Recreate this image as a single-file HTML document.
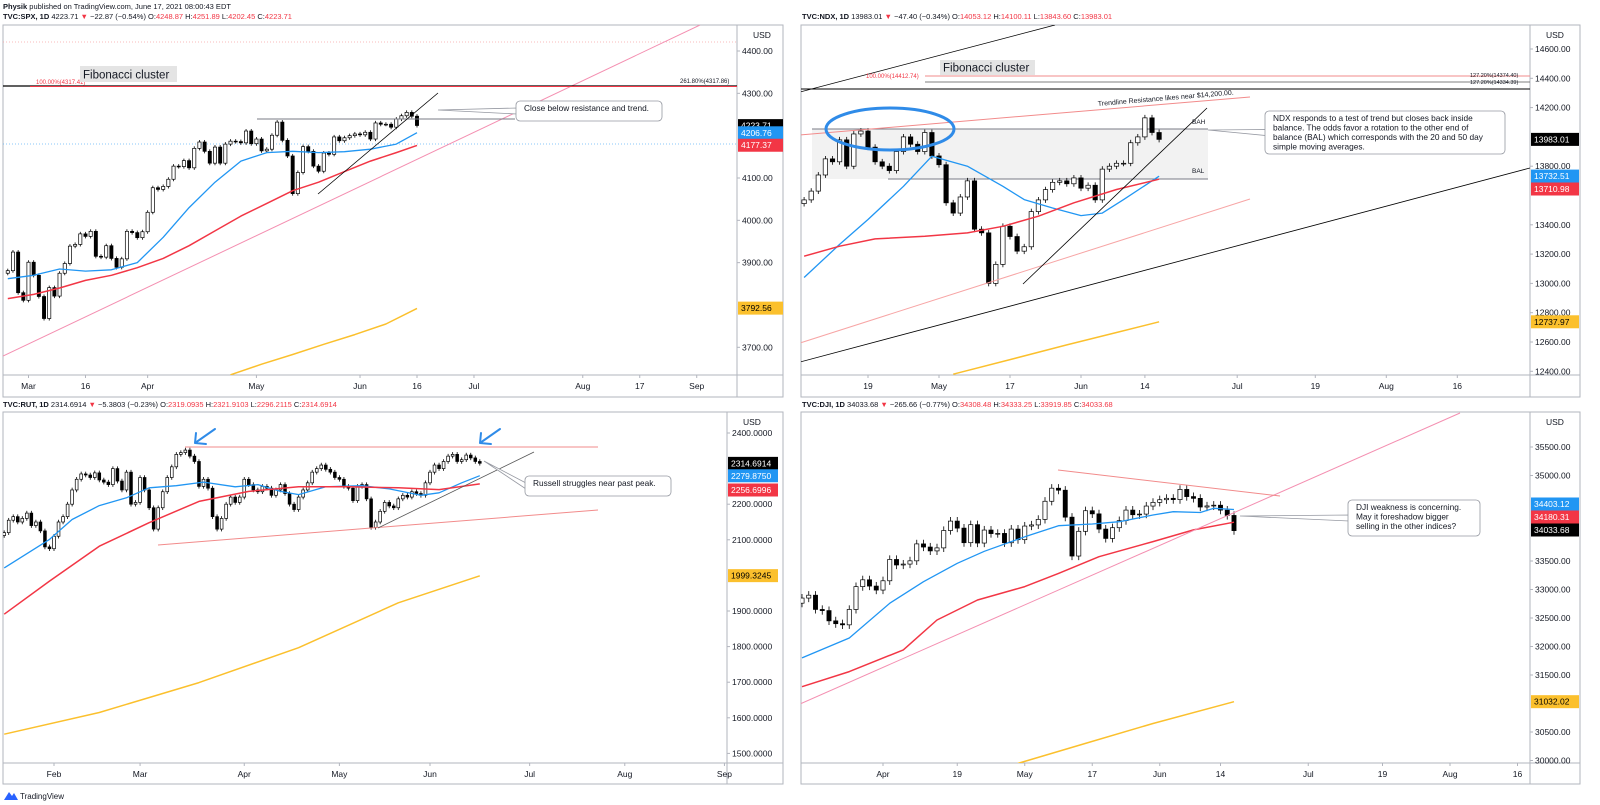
<!DOCTYPE html>
<html><head><meta charset="utf-8"><style>
html,body{margin:0;padding:0;background:#fff;}
svg{display:block;font-family:"Liberation Sans",sans-serif;}
</style></head><body>
<svg id="s" width="1600" height="805" viewBox="0 0 1600 805" xmlns="http://www.w3.org/2000/svg">
<rect x="0" y="0" width="1600" height="805" fill="#fff"/>
<text x="3" y="9" font-size="7.5" fill="#131722"><tspan font-weight="bold">Physik</tspan> published on TradingView.com, June 17, 2021 08:00:43 EDT</text>
<text x="3" y="19" font-size="7.5" fill="#131722"><tspan font-weight="bold">TVC:SPX, 1D</tspan> 4223.71 <tspan fill="#f23645">▼</tspan> −22.87 (−0.54%) O:<tspan fill="#f23645">4248.87</tspan> H:<tspan fill="#f23645">4251.89</tspan> L:<tspan fill="#f23645">4202.45</tspan> C:<tspan fill="#f23645">4223.71</tspan></text>
<text x="802" y="19" font-size="7.5" fill="#131722"><tspan font-weight="bold">TVC:NDX, 1D</tspan> 13983.01 <tspan fill="#f23645">▼</tspan> −47.40 (−0.34%) O:<tspan fill="#f23645">14053.12</tspan> H:<tspan fill="#f23645">14100.11</tspan> L:<tspan fill="#f23645">13843.60</tspan> C:<tspan fill="#f23645">13983.01</tspan></text>
<text x="3" y="407" font-size="7.5" fill="#131722"><tspan font-weight="bold">TVC:RUT, 1D</tspan> 2314.6914 <tspan fill="#f23645">▼</tspan> −5.3803 (−0.23%) O:<tspan fill="#f23645">2319.0935</tspan> H:<tspan fill="#f23645">2321.9103</tspan> L:<tspan fill="#f23645">2296.2115</tspan> C:<tspan fill="#f23645">2314.6914</tspan></text>
<text x="802" y="407" font-size="7.5" fill="#131722"><tspan font-weight="bold">TVC:DJI, 1D</tspan> 34033.68 <tspan fill="#f23645">▼</tspan> −265.66 (−0.77%) O:<tspan fill="#f23645">34308.48</tspan> H:<tspan fill="#f23645">34333.25</tspan> L:<tspan fill="#f23645">33919.85</tspan> C:<tspan fill="#f23645">34033.68</tspan></text>
<g><path d="M4 800 L9 792 L12 796 L14 793 L18 800 Z" fill="#2962ff"/><text x="20" y="799" font-size="8" fill="#131722">TradingView</text></g>
</svg>
<script>
// ---------- DATA ----------
// SPX
const spxStart=-4;
const spxCloses=[3881,3925,3829,3811,3901,3870,3820,3768,3841,3821,3875,3898,3939,3943,3968,3962,3974,3915,3913,3940,3910,3889,3909,3974,3971,3959,3973,4019,4077,4073,4080,4097,4128,4127,4141,4124,4170,4185,4163,4135,4173,4135,4180,4187,4186,4183,4211,4181,4192,4164,4168,4201,4232,4189,4152,4063,4113,4174,4163,4128,4116,4159,4156,4197,4188,4195,4200,4204,4202,4208,4192,4230,4227,4227,4220,4239,4247,4255,4246,4224];
const spxMaIdx=[-4,1,6,11,16,21,26,31,36,41,46,51,56,61,66,71,75];
const spxMa20=[3862,3870,3885,3880,3883,3900,3960,4030,4090,4140,4160,4163,4160,4162,4168,4180,4207];
const spxMa50=[3815,3825,3840,3858,3870,3888,3910,3940,3975,4010,4040,4070,4090,4115,4140,4160,4177];
const spxMa200Idx=[39,45,51,57,63,69,75];
const spxMa200=[3635,3660,3683,3707,3730,3755,3792];
const spxTicks=[4400,4300,4100,4000,3900,3700];
const spxTimeLabels=['Mar','16','Apr','May','Jun','16','Jul','Aug','17','Sep'];
const spxTimeIdx=[0,11,23,44,64,75,86,107,118,129];
// NDX
const ndxStart=-9;
const ndxCloses=[13570,13630,13740,13850,13830,13980,13800,14020,14040,13930,13830,13800,13770,13900,14000,13950,13900,14030,13870,13810,13550,13480,13590,13700,13370,13345,13000,13130,13390,13320,13220,13250,13490,13570,13640,13690,13700,13680,13720,13650,13670,13570,13780,13800,13820,13820,13960,14000,14130,14030,13983];
const ndxMa20Idx=[-9,-4,0,5,9,14,19,22,26,30,33,36,41];
const ndxMa20=[13040,13266,13436,13663,13868,13800,13663,13572,13515,13463,13480,13572,13732];
const ndxMa50Idx=[-9,-4,1,8,14,19,24,29,35,41];
const ndxMa50=[13186,13254,13304,13322,13345,13390,13459,13550,13641,13711];
const ndxMa200Idx=[12,20,28,35,41];
const ndxMa200=[12380,12480,12580,12665,12738];
const ndxTicks=[14600,14400,14200,13800,13400,13200,13000,12800,12600,12400];
const ndxTimeLabels=['19','May','17','Jun','14','Jul','19','Aug','16'];
const ndxTimeIdx=[0,10,20,30,39,52,63,73,83];
// RUT
const rutStart=-11;
const rutCloses=[2120,2155,2165,2150,2160,2175,2140,2150,2125,2080,2075,
2110,2150,2165,2200,2240,2270,2285,2282,2275,2288,2268,2262,2255,2300,2265,2240,2290,2200,2205,
2275,2240,2190,2130,2190,2235,2275,2305,2340,2345,2352,2335,2320,2250,2270,2245,2165,2130,2160,2200,2220,2205,2220,
2270,2255,2240,2235,2250,2245,2225,2240,2255,2230,2200,2185,2220,2240,2260,2290,2300,2310,2298,2290,2275,
2270,2250,2245,2210,2250,2255,2215,2135,2150,2180,2205,2195,2190,2215,2225,2220,2235,2230,2225,2260,
2290,2310,2300,2320,2335,2340,2320,2325,2338,2330,2320,2315];
const rutMa20Idx=[-11,-1,4,10,16,21,27,33,40,45,50,54,60,68,74,81,85,90,94];
const rutMa20=[2021,2101,2157,2196,2218,2246,2252,2262,2249,2255,2236,2227,2249,2252,2243,2225,2232,2260,2280];
const rutMa50Idx=[-11,-1,10,21,32,43,54,65,76,85,94];
const rutMa50=[1891,1984,2082,2148,2208,2236,2249,2249,2246,2241,2257];
const rutMa200Idx=[-11,10,32,54,76,94];
const rutMa200=[1554,1615,1699,1797,1923,1999];
const rutTicks=[2400,2200,2100,1900,1800,1700,1600,1500];
const rutTimeLabels=['Feb','Mar','Apr','May','Jun','Jul','Aug','Sep'];
const rutTimeIdx=[0,19,42,63,83,105,126,148];
// DJI
const djiStart=-12;
const djiCloses=[32850,32900,32650,32630,32450,32400,32380,32650,33050,33170,33060,32990,
33153,33527,33430,33446,33503,33800,33745,33677,33730,34035,34200,34077,33821,34137,33815,34043,33981,33984,33820,34060,33874,
34113,34133,34230,34548,34777,34742,34269,33587,34021,34382,34327,34060,33896,34084,34208,34393,34312,34323,34464,34529,
34575,34600,34577,34756,34630,34599,34447,34466,34479,34393,34299,34033];
const djiMa20Idx=[-12,-5,1,6,11,15,21,26,31,35,40,43,47,49,52];
const djiMa20=[31800,32150,32760,33137,33460,33670,33925,34120,34150,34190,34307,34365,34350,34425,34403];
const djiMa50Idx=[-12,-5,3,8,14,21,26,32,40,46,52];
const djiMa50=[31295,31560,31940,32465,32815,33050,33283,33575,33840,34045,34180];
const djiMa200Idx=[20,30,40,52];
const djiMa200=[29950,30300,30650,31032];
const djiTicks=[35500,35000,33500,33000,32500,32000,31500,30500,30000];
const djiTimeLabels=['Apr','19','May','17','Jun','14','Jul','19','Aug','16'];
const djiTimeIdx=[0,11,21,31,41,50,63,74,84,94];

// ---------- RENDER ----------
const S=document.getElementById('s');
const NS='http://www.w3.org/2000/svg';
function mk(tag,attrs,parent){const e=document.createElementNS(NS,tag);for(const k in attrs)e.setAttribute(k,attrs[k]);(parent||S).appendChild(e);return e;}
const BLUE='#2196f3',RED='#f23645',YEL='#fbc02d';

function panel(c){
  const g=mk('g',{});
  
  
  const X=i=>c.x0+i*c.dx, Y=p=>c.yRef+(c.pRef-p)*c.k;
  const border=mk('rect',{x:c.L,y:c.T,width:c.BR-c.L,height:c.BB-c.T,fill:'none',stroke:'#b2b5be','stroke-width':1},g);
  
  
  mk('line',{x1:c.R,y1:c.T,x2:c.R,y2:c.BB,stroke:'#b2b5be','stroke-width':1},g);
  mk('line',{x1:c.L,y1:c.B,x2:c.BR,y2:c.B,stroke:'#b2b5be','stroke-width':1},g);
  const cid='clip'+c.name;
  const cp=mk('clipPath',{id:cid},g);mk('rect',{x:c.L,y:c.T,width:c.R-c.L,height:c.B-c.T},cp);
  const plot=mk('g',{'clip-path':'url(#'+cid+')'},g);
  if(c.under)c.under(plot);
  const cg=mk('g',{},plot);
  
  
  const bw=c.dx*0.62;
  c.closes.forEach((cl,j)=>{
    const i=c.start+j;const op=j===0?cl-c.wick:c.closes[j-1];
    const hi=Math.max(op,cl)+c.wick*0.8, lo=Math.min(op,cl)-c.wick*0.8;
    const x=X(i);
    mk('line',{x1:x,y1:Y(hi),x2:x,y2:Y(lo),stroke:'#000','stroke-width':0.8},cg);
    const up=cl>=op;const y1=Y(Math.max(op,cl)),y2=Y(Math.min(op,cl));
    const r=mk('rect',{x:x-bw/2,y:y1,width:bw,height:Math.max(0.8,y2-y1),fill:up?'#fff':'#000',stroke:'#000','stroke-width':0.7},cg);
    
    
  });
  const ma=(idx,vals,col,nm,w)=>{
    const d=idx.map((ii,j)=>(j?'L':'M')+X(ii).toFixed(1)+' '+Y(vals[j]).toFixed(1)).join(' ');
    const p=mk('path',{d:d,fill:'none',stroke:col,'stroke-width':w,'stroke-linejoin':'round'},plot);
    
    
  };
  ma(c.ma20i,c.ma20,BLUE,c.name+'-sma20-line',1.3);
  ma(c.ma50i,c.ma50,RED,c.name+'-sma50-line',1.5);
  ma(c.ma200i,c.ma200,YEL,c.name+'-sma200-line',1.5);
  if(c.over)c.over(plot,X,Y);
  c.ticks.forEach(t=>{
    const y=Y(t);
    mk('line',{x1:c.R,y1:y,x2:c.R+3,y2:y,stroke:'#b2b5be'},g);
    const tx=mk('text',{x:c.R+5,y:y+3,'font-size':8.5,fill:'#131722'},g);
    tx.textContent=t.toFixed(c.dec);
    
    
  });
  const usd=mk('text',{x:c.R+16,y:c.T+13,'font-size':8.5,fill:'#131722'},g);usd.textContent='USD';
  
  
  c.tl.forEach((lab,j)=>{
    const x=X(c.ti[j]);if(x>c.R)return;
    mk('line',{x1:x,y1:c.B,x2:x,y2:c.B+3,stroke:'#b2b5be'},g);
    const tx=mk('text',{x:x,y:c.B+14,'font-size':8.5,fill:'#131722','text-anchor':'middle'},g);
    tx.textContent=lab;
    
    
  });
  c.badges.forEach(b=>{
    const y=b.y!==undefined?b.y:Y(b.v);
    const bg=mk('g',{},g);
    
    
    mk('rect',{x:c.R+1,y:y-6.5,width:c.bw,height:13,fill:b.c},bg);
    const tx=mk('text',{x:c.R+4,y:y+3,'font-size':8.5,fill:b.c===YEL?'#000':'#fff'},bg);
    tx.textContent=b.t;
  });
}
function line(p,x1,y1,x2,y2,col,w,nm,dash){const l=mk('line',{x1,y1,x2,y2,stroke:col,'stroke-width':w||1},p);if(dash)l.setAttribute('stroke-dasharray',dash);return l;}
function txt(p,x,y,s,sz,col,nm,extra){const t=mk('text',Object.assign({x,y,'font-size':sz,fill:col||'#131722'},extra||{}),p);t.textContent=s;return t;}
function callout(p,x,y,w,h,px,py,lines,nm){
  const g=mk('g',{},p);
  
  
  mk('polygon',{points:`${px},${py} ${x+1},${y+h/2-3} ${x+1},${y+h/2+3}`,fill:'#fff',stroke:'#9598a1','stroke-width':0.8},g);
  mk('rect',{x,y,width:w,height:h,rx:4,fill:'#fff',stroke:'#9598a1','stroke-width':0.8},g);
  lines.forEach((s,i)=>{const t=mk('text',{x:x+8,y:y+10+i*9.5,'font-size':8.3,fill:'#131722'},g);t.textContent=s;});
}
function fibBox(p,x,y,w,h){const g=mk('g',{},p);mk('rect',{x,y,width:w,height:h,fill:'#e4e4e4'},g);const t=mk('text',{x:x+3,y:y+h-3.5,'font-size':11.5,fill:'#131722'},g);t.textContent='Fibonacci cluster';}

// SPX
panel({name:'spx',L:3,T:25,R:737,B:375,BR:783,BB:397,x0:28.5,dx:5.18,yRef:51,pRef:4400,k:0.4233,dec:2,bw:45,
 start:spxStart,closes:spxCloses,wick:6,ma20i:spxMaIdx,ma20:spxMa20,ma50i:spxMaIdx,ma50:spxMa50,ma200i:spxMa200Idx,ma200:spxMa200,
 ticks:spxTicks,tl:spxTimeLabels,ti:spxTimeIdx,
 under:p=>{line(p,3,42,737,42,'#f7a5a5',0.8,'dotted-level-line','1 2');line(p,3,144,737,144,'#64b5f6',0.8,'dotted-price-line','1 2');},
 over:(p)=>{
  line(p,3,356,700,25,'#f48fb1',1,'pink-trendline');
  line(p,3,86,737,86,'#000',1.2,'fib-level-line');
  line(p,30,86.5,737,86.5,RED,1,'fib-100-line');
  txt(p,36,84,'100.00%(4317.41)',6,RED,'fib-100-label');
  txt(p,680,83,'261.80%(4317.86)',6,'#131722','fib-261-label');
  fibBox(p,80,66,97,16);
  line(p,257,119,515,119,'#787b86',1,'resistance-line');
  line(p,318,194,438,93,'#000',0.8,'trendline');
  callout(p,516,101,146,20,438,110,['Close below resistance and trend.'],'spx-callout');
 },
 badges:[{v:4223.71,t:'4223.71',c:'#000',n:'last-price-badge'},{v:4206.76,t:'4206.76',c:BLUE,n:'sma20-badge'},{v:4177.37,t:'4177.37',c:RED,n:'sma50-badge'},{v:3792.56,t:'3792.56',c:YEL,n:'sma200-badge'}]});

// NDX
panel({name:'ndx',L:801,T:25,R:1530,B:375,BR:1580,BB:397,x0:868,dx:7.1,yRef:49,pRef:14600,k:0.1465,dec:2,bw:48,
 start:ndxStart,closes:ndxCloses,wick:25,ma20i:ndxMa20Idx,ma20:ndxMa20,ma50i:ndxMa50Idx,ma50:ndxMa50,ma200i:ndxMa200Idx,ma200:ndxMa200,
 ticks:ndxTicks,tl:ndxTimeLabels,ti:ndxTimeIdx,
 under:p=>{const r=mk('rect',{x:812,y:129,width:396,height:50,fill:'#f2f2f2'},p);
   line(p,812,129,1208,129,'#787b86',1,'balance-high-line');line(p,888,179,1208,179,'#787b86',1,'balance-low-line');},
 over:(p)=>{
  line(p,800,92,1055,25,'#000',0.8,'upper-channel-line');
  line(p,801,89,1530,89,'#000',1,'fib-level-line');
  line(p,925,76,1530,76,'#f28b8b',1,'fib-100-line');
  line(p,925,82,1530,82,'#555',0.8,'fib-127-line');
  txt(p,866,78,'100.00%(14412.74)',6,RED,'fib-100-label');
  txt(p,1470,77,'127.20%(14374.40)',5.5,'#131722','fib-127-label-a');
  txt(p,1470,84,'127.20%(14334.39)',5.5,'#131722','fib-127-label-b');
  fibBox(p,940,60,95,15);
  line(p,800,135,1250,97,'#f28b8b',1,'resistance-trendline');
  txt(p,1098,106,'Trendline Resistance likes near $14,200.00.',7,'#131722','trendline-resistance-label',{transform:'rotate(-4.8 1098 106)'});
  line(p,800,343,1250,199,'#f7a5a5',1,'lower-channel-line');
  line(p,800,362,1530,168,'#000',0.8,'long-trendline');
  line(p,1023,284,1207,108,'#000',0.8,'trendline');
  txt(p,1192,124,'BAH',6.5,'#131722','bah-label');
  txt(p,1192,173,'BAL',6.5,'#131722','bal-label');
  const e=mk('ellipse',{cx:890,cy:129,rx:64,ry:21,fill:'none',stroke:'#2f8be8','stroke-width':3},p);
  callout(p,1265,111,240,43,1208,130,['NDX responds to a test of trend but closes back inside','balance. The odds favor a rotation to the other end of','balance (BAL) which corresponds with the 20 and 50 day','simple moving averages.'],'ndx-callout');
 },
 badges:[{v:13983.01,t:'13983.01',c:'#000',n:'last-price-badge'},{v:13732.51,t:'13732.51',c:BLUE,n:'sma20-badge'},{v:13710.98,y:189,t:'13710.98',c:RED,n:'sma50-badge'},{v:12737.97,t:'12737.97',c:YEL,n:'sma200-badge'}]});

// RUT
panel({name:'rut',L:3,T:412,R:727,B:763,BR:783,BB:784,x0:54,dx:4.53,yRef:433,pRef:2400,k:0.356,dec:4,bw:50,
 start:rutStart,closes:rutCloses,wick:8,ma20i:rutMa20Idx,ma20:rutMa20,ma50i:rutMa50Idx,ma50:rutMa50,ma200i:rutMa200Idx,ma200:rutMa200,
 ticks:rutTicks,tl:rutTimeLabels,ti:rutTimeIdx,
 over:(p)=>{
  line(p,185,447,598,447,'#f28b8b',1,'past-peak-line');
  line(p,158,545,598,510,'#f28b8b',1,'support-trendline');
  line(p,378,528,534,452,'#555',0.8,'trendline');
  [[195,429],[480,429]].forEach(a=>{const gg=mk('path',{d:`M${a[0]+20} ${a[1]} L${a[0]} ${a[1]+14} M${a[0]} ${a[1]+14} L${a[0]+1} ${a[1]+4} M${a[0]} ${a[1]+14} L${a[0]+11} ${a[1]+15}`,fill:'none',stroke:'#2f8be8','stroke-width':2,'stroke-linecap':'round'},p);});
  callout(p,525,476,146,20,484,461,['Russell struggles near past peak.'],'rut-callout');
 },
 badges:[{v:2314.6914,t:'2314.6914',c:'#000',n:'last-price-badge'},{v:2279.875,t:'2279.8750',c:BLUE,n:'sma20-badge'},{v:2256.6996,y:490,t:'2256.6996',c:RED,n:'sma50-badge'},{v:1999.3245,t:'1999.3245',c:YEL,n:'sma200-badge'}]});

// DJI
panel({name:'dji',L:801,T:412,R:1530,B:763,BR:1580,BB:784,x0:883,dx:6.75,yRef:447,pRef:35500,k:0.057,dec:2,bw:48,
 start:djiStart,closes:djiCloses,wick:90,ma20i:djiMa20Idx,ma20:djiMa20,ma50i:djiMa50Idx,ma50:djiMa50,ma200i:djiMa200Idx,ma200:djiMa200,
 ticks:djiTicks,tl:djiTimeLabels,ti:djiTimeIdx,
 over:(p)=>{
  line(p,800,704,1460,413,'#f48fb1',1,'pink-trendline');
  line(p,1058,470,1280,496,'#f28b8b',1,'descending-trendline');
  callout(p,1348,500,132,36,1240,516,['DJI weakness is concerning.','May it foreshadow bigger','selling in the other indices?'],'dji-callout');
 },
 badges:[{v:34403.12,y:504,t:'34403.12',c:BLUE,n:'sma20-badge'},{v:34180.31,y:517,t:'34180.31',c:RED,n:'sma50-badge'},{v:34033.68,y:530,t:'34033.68',c:'#000',n:'last-price-badge'},{v:31032.02,t:'31032.02',c:YEL,n:'sma200-badge'}]});
</script>
</body></html>
